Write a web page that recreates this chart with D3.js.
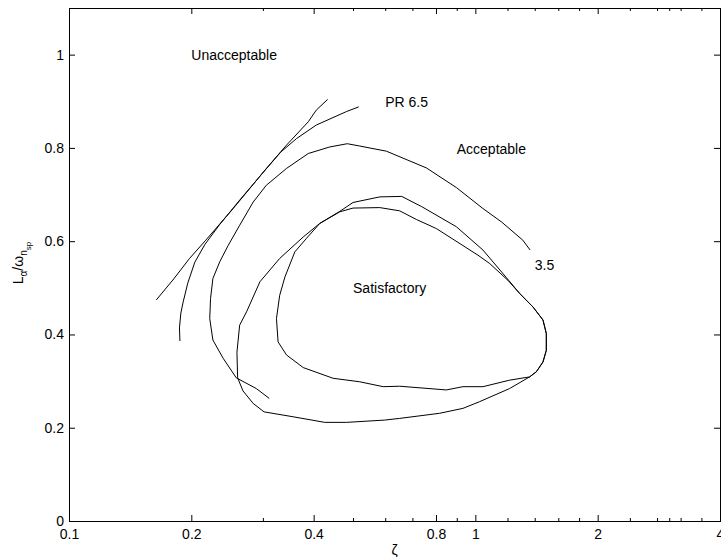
<!DOCTYPE html>
<html>
<head>
<meta charset="utf-8">
<script src="https://cdn.jsdelivr.net/npm/d3@7"></script>
<style>
  body { margin: 0; background: #fff; }
  text { font-family: "Liberation Sans", Arial, Helvetica, sans-serif; }
</style>
</head>
<body>
<div id="chart"></div>
<script>
// tick values
const xTicksMajor = [0.1, 0.2, 0.4, 0.8, 1, 2, 4];
const xTicksMinor = [0.3, 0.5, 0.6, 0.7, 0.9, 1.2, 1.4, 1.6, 1.8, 2.4, 2.8, 3, 3.2, 3.6];
const yTicks = [0, 0.2, 0.4, 0.6, 0.8, 1];

// boundaries, [zeta, L_alpha/omega_nsp]
const unacceptableLine = [[0.164,0.474],[0.181,0.519],[0.198,0.563],[0.217,0.602],[0.2535,0.670],[0.306,0.756],[0.343,0.806],[0.388,0.856],[0.406,0.881],[0.433,0.904]];
const pr65Boundary = [[0.1875,0.386],[0.187,0.414],[0.1885,0.446],[0.191,0.470],[0.196,0.510],[0.204,0.555],[0.216,0.593],[0.235,0.636],[0.263,0.688],[0.305,0.754],[0.332,0.791],[0.363,0.820],[0.406,0.849],[0.482,0.878],[0.5165,0.888]];
const pr35Boundary = [[0.311,0.263],[0.289,0.284],[0.258,0.307],[0.2395,0.349],[0.226,0.388],[0.222,0.434],[0.223,0.477],[0.226,0.520],[0.235,0.556],[0.2465,0.591],[0.263,0.634],[0.284,0.684],[0.306,0.720],[0.343,0.756],[0.388,0.788],[0.438,0.802],[0.484,0.809],[0.5195,0.804],[0.604,0.793],[0.758,0.757],[0.898,0.715],[1.044,0.670],[1.161,0.641],[1.309,0.602],[1.364,0.581]];
const satisfactoryOuter = [[0.482,0.2115],[0.426,0.2115],[0.356,0.2235],[0.302,0.234],[0.284,0.252],[0.268,0.279],[0.260,0.307],[0.259,0.362],[0.263,0.420],[0.2735,0.4485],[0.295,0.513],[0.330,0.563],[0.377,0.609],[0.414,0.638],[0.464,0.664],[0.500,0.683],[0.582,0.695],[0.659,0.696],[0.738,0.674],[0.898,0.631],[1.044,0.581],[1.192,0.522],[1.285,0.488],[1.386,0.459],[1.467,0.431],[1.495,0.402],[1.495,0.366],[1.467,0.341],[1.413,0.320],[1.360,0.309],[1.214,0.284],[1.025,0.256],[0.932,0.2415],[0.817,0.231],[0.6515,0.220],[0.598,0.2164],[0.482,0.2115]];
const satisfactoryInner = [[0.414,0.638],[0.384,0.606],[0.3595,0.577],[0.340,0.5235],[0.330,0.484],[0.324,0.434],[0.327,0.384],[0.343,0.356],[0.377,0.329],[0.4466,0.306],[0.5195,0.2985],[0.593,0.288],[0.6515,0.289],[0.8485,0.281],[0.932,0.288],[1.044,0.288],[1.214,0.302],[1.360,0.309],[1.413,0.320],[1.467,0.341],[1.495,0.366],[1.495,0.402],[1.467,0.431],[1.386,0.459],[1.285,0.488],[1.203,0.516],[1.085,0.552],[1.015,0.570],[0.802,0.627],[0.716,0.6465],[0.6515,0.665],[0.582,0.672],[0.500,0.671],[0.464,0.663],[0.414,0.638]];

// region labels
const regionNames = ["Unacceptable", "PR 6.5", "Acceptable", "3.5", "Satisfactory"];
const regionZeta = [0.2, 0.6, 0.9, 1.4, 0.5];
const regionRatio = [1, 0.9, 0.8, 0.55, 0.5];

const width = 721, height = 560;
const plotLeft = 69, plotRight = 720, plotTop = 8, plotBottom = 521;

const svg = d3.select("#chart").append("svg")
  .attr("width", width)
  .attr("height", height);

const x = d3.scaleLog().domain([0.1, 4]).range([plotLeft, plotRight]);
const y = d3.scaleLinear().domain([0, 1.1]).range([plotBottom, plotTop]);

//axes (ticks point inward, box all round)
function cleanAxis(g) {
  g.select(".domain").remove();
  g.selectAll("text").style("font-size", "14px").attr("fill", "#000");
  g.selectAll("line").attr("stroke", "#000");
}

svg.append("g").attr("transform", "translate(0," + plotBottom + ")")
  .call(d3.axisBottom(x).tickValues(xTicksMajor).tickSize(-6).tickPadding(8).tickFormat(d => String(d)))
  .call(cleanAxis);
svg.append("g").attr("transform", "translate(0," + plotBottom + ")")
  .call(d3.axisBottom(x).tickValues(xTicksMinor).tickSize(-3).tickFormat(""))
  .call(cleanAxis);
svg.append("g").attr("transform", "translate(0," + plotTop + ")")
  .call(d3.axisTop(x).tickValues(xTicksMajor).tickSize(-6).tickFormat(""))
  .call(cleanAxis);
svg.append("g").attr("transform", "translate(0," + plotTop + ")")
  .call(d3.axisTop(x).tickValues(xTicksMinor).tickSize(-3).tickFormat(""))
  .call(cleanAxis);
svg.append("g").attr("transform", "translate(" + plotLeft + ",0)")
  .call(d3.axisLeft(y).tickValues(yTicks).tickSize(-6).tickPadding(5).tickFormat(d => String(d)))
  .call(cleanAxis);
svg.append("g").attr("transform", "translate(" + plotRight + ",0)")
  .call(d3.axisRight(y).tickValues(yTicks).tickSize(-6).tickFormat(""))
  .call(cleanAxis);

svg.append("rect")
  .attr("x", plotLeft + 0.5).attr("y", plotTop + 0.5)
  .attr("width", plotRight - plotLeft).attr("height", plotBottom - plotTop)
  .attr("fill", "none").attr("stroke", "#000").attr("stroke-width", 1);

// curves
const line = d3.line().x(d => x(d[0])).y(d => y(d[1]));
const curves = [unacceptableLine, pr65Boundary, pr35Boundary, satisfactoryOuter, satisfactoryInner];
svg.append("g").selectAll("path").data(curves).enter()
  .append("path")
  .attr("d", line)
  .attr("fill", "none")
  .attr("stroke", "#000")
  .attr("stroke-width", 1);

// region text
svg.append("g").selectAll("text").data(regionNames).enter()
  .append("text")
  .text(d => d)
  .attr("x", (d, i) => x(regionZeta[i]))
  .attr("y", (d, i) => y(regionRatio[i]))
  .attr("dy", "0.4em")
  .style("font-size", "14px");

// axis labels
svg.append("text")
  .text("ζ")
  .attr("x", (plotLeft + plotRight) / 2)
  .attr("y", 555)
  .attr("text-anchor", "middle")
  .style("font-size", "14px");

const ylab = svg.append("text")
  .attr("transform", "translate(23,263) rotate(-90)")
  .attr("text-anchor", "middle")
  .style("font-size", "14px");
ylab.append("tspan").text("L");
ylab.append("tspan").attr("dy", 4).style("font-size", "10px").text("α");
ylab.append("tspan").attr("dy", -4).text("/ω");
ylab.append("tspan").attr("dy", 4).style("font-size", "10px").text("n");
ylab.append("tspan").attr("dy", 4).style("font-size", "8px").text("sp");
</script>
</body>
</html>
